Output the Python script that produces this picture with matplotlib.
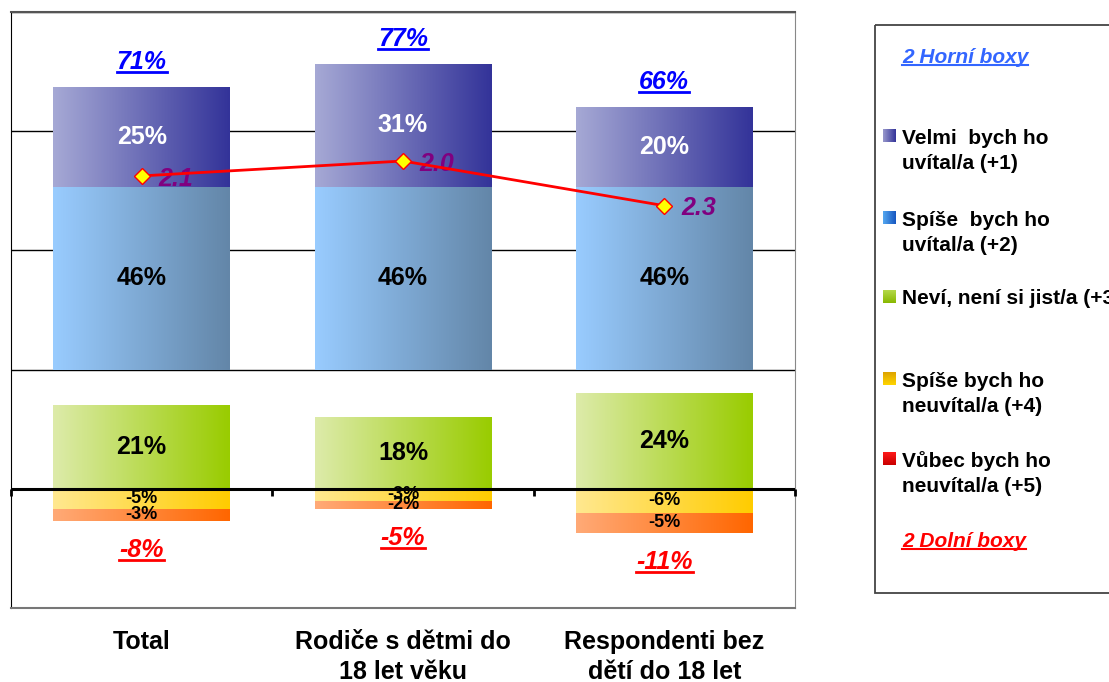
import numpy as np
import matplotlib.pyplot as plt
from matplotlib.colors import to_rgb
from matplotlib.patches import Rectangle
from matplotlib.lines import Line2D

plt.rcParams['font.family'] = ['Liberation Sans', 'DejaVu Sans']
plt.rcParams['font.weight'] = 'bold'

# data
kategorie = ['Total', 'Rodiče s dětmi do\n18 let věku', 'Respondenti bez\ndětí do 18 let']
velmi = [25, 31, 20]          # +1
spise = [46, 46, 46]          # +2
nevi = [21, 18, 24]           # +3
spise_ne = [-5, -3, -6]       # +4
vubec_ne = [-3, -2, -5]       # +5
horni_boxy = [71, 77, 66]
dolni_boxy = [-8, -5, -11]
prumer = [2.1, 2.0, 2.3]
mezera = 30                   # neviditelna mezera pod kladnymi boxy

W, H = 1109, 682
fig = plt.figure(figsize=(W / 100, H / 100), dpi=100)
ax = fig.add_axes([11 / W, 1 - 608 / H, (795 - 11) / W, (608 - 12) / H])

x = np.arange(len(kategorie))
sirka = 0.675


def gradient(c1, c2, vertical=False):
    t = np.linspace(0, 1, 256)
    a, b = np.array(to_rgb(c1)), np.array(to_rgb(c2))
    img = a[None, :] * (1 - t[:, None]) + b[None, :] * t[:, None]
    return img[:, None, :] if vertical else img[None, :, :]


def sloupce(vysky, spodek, c1, c2):
    bars = ax.bar(x, vysky, sirka, bottom=spodek, color='none', edgecolor='none', zorder=2)
    img = gradient(c1, c2)
    for b in bars:
        x0, y0 = b.get_x(), b.get_y()
        im = ax.imshow(img, extent=(x0, x0 + b.get_width(), y0, y0 + b.get_height()),
                       aspect='auto', zorder=2, interpolation='bilinear')
        im.set_clip_path(b)
    return bars


def popisky(vysky, spodek, barva, vel):
    for xi, v, s in zip(x, vysky, spodek):
        ax.text(xi, s + v / 2, f'{v}%', ha='center', va='center', color=barva,
                fontsize=vel, fontweight='bold', zorder=6)


spodek_spise = [mezera] * len(x)
spodek_velmi = [mezera + s for s in spise]
sloupce(spise, spodek_spise, '#99CCFF', '#6386A8')
sloupce(velmi, spodek_velmi, '#A6A9D5', '#333399')
sloupce(nevi, 0, '#DDEBAA', '#99CC00')
sloupce(spise_ne, 0, '#FFE890', '#FFCC00')
sloupce(vubec_ne, spise_ne, '#FFAA77', '#FF6600')

popisky(spise, spodek_spise, 'black', 18)
popisky(velmi, spodek_velmi, 'white', 18)
popisky(nevi, [0] * len(x), 'black', 18)
popisky(spise_ne, [0] * len(x), 'black', 13)
popisky(vubec_ne, spise_ne, 'black', 13)

podtrzene = []
for xi, v, s, h in zip(x, horni_boxy, spise, velmi):
    t = ax.annotate(f'{v}%', (xi, mezera + s + h), xytext=(0, 13), textcoords='offset points',
                    ha='center', va='baseline', color='#0000FF', fontsize=18,
                    fontweight='bold', fontstyle='italic')
    podtrzene.append((t, 3, 2.0))
for xi, v, a, b in zip(x, dolni_boxy, spise_ne, vubec_ne):
    t = ax.annotate(f'{v}%', (xi, a + b), xytext=(0, -26), textcoords='offset points',
                    ha='center', va='baseline', color='#FF0000', fontsize=18,
                    fontweight='bold', fontstyle='italic')
    podtrzene.append((t, 3, 2.0))

# osy
ax.set_xlim(-0.5, len(x) - 0.5)
ax.set_ylim(-30, 120)
ax.set_yticks(np.arange(-30, 121, 30))
ax.yaxis.grid(True, color='black', lw=1)
ax.set_axisbelow(True)
ax.tick_params(axis='y', length=0, labelleft=False)
ax.set_xticks(x, kategorie)
ax.tick_params(axis='x', length=0, pad=16, labelsize=18)
for lab in ax.get_xticklabels():
    lab.set_linespacing(1.28)
ax.spines['left'].set_color('black')
ax.spines['top'].set_color('#555555')
ax.spines['top'].set_linewidth(1.5)
ax.spines['right'].set_color('#888888')
ax.spines['bottom'].set_color('#777777')
ax.spines['bottom'].set_linewidth(1.5)
ax.axhline(0, color='black', lw=2.2, zorder=4)
ax.vlines(np.arange(len(x) + 1) - 0.5, -1.8, 0, color='black', lw=2, zorder=4, clip_on=False)

# prumer
ax2 = ax.twinx()
ax2.set_ylim(5, 1)
ax2.axis('off')
ax2.plot(x, prumer, color='red', lw=2, marker='D', ms=8, mfc='yellow', mec='red', mew=1, zorder=5)
for xi, m in zip(x, prumer):
    ax2.annotate(f'{m:.1f}', (xi, m), xytext=(12, -2), textcoords='offset points',
                 ha='left', va='center', color='#800080', fontsize=18,
                 fontweight='bold', fontstyle='italic')

# legenda
lax = fig.add_axes([875 / W, 1 - 593 / H, 260 / W, (593 - 25) / H])
lax.axis('off')
lax.add_patch(Rectangle((0, 0), 260, 568, fill=False, edgecolor='#444444', lw=1.3, clip_on=False))

polozky = [
    ('Velmi  bych ho\nuvítal/a (+1)', 118, ('#9999CC', '#333399', False)),
    ('Spíše  bych ho\nuvítal/a (+2)', 200, ('#55A8F0', '#1656C0', False)),
    ('Neví, není si jist/a (+3)', 279, ('#B5D94A', '#88B800', True)),
    ('Spíše bych ho\nneuvítal/a (+4)', 361, ('#DDA300', '#FFD500', True)),
    ('Vůbec bych ho\nneuvítal/a (+5)', 441, ('#FF1A1A', '#C80000', True)),
]
radek = 26
for text, yb, (c1, c2, vert) in polozky:
    n = text.count('\n')
    lax.text(27, yb + n * radek, text, ha='left', va='baseline', fontsize=15, fontweight='bold',
             linespacing=1.4, clip_on=False)
    c = yb - 7
    lax.imshow(gradient(c1, c2, vert), extent=(8, 21, c + 6.5, c - 6.5), aspect='auto',
               interpolation='bilinear')

t = lax.text(27, 38, '2 Horní boxy', ha='left', va='baseline', fontsize=15, color='#3366FF',
             fontweight='bold', fontstyle='italic')
podtrzene.append((t, 1.5, 1.5))
t = lax.text(27, 522, '2 Dolní boxy', ha='left', va='baseline', fontsize=15, color='#FF0000',
             fontweight='bold', fontstyle='italic')
podtrzene.append((t, 1.5, 1.5))
lax.set_xlim(0, 260)
lax.set_ylim(568, 0)

# podtrzeni
fig.canvas.draw()
r = fig.canvas.get_renderer()
inv = fig.transFigure.inverted()
for t, mezi, tl in podtrzene:
    bb = t.get_window_extent(r)
    fp = t.get_fontproperties()
    d = max(r.get_text_width_height_descent(t.get_text(), fp, ismath=False)[2],
            r.get_text_width_height_descent('lp', fp, ismath=False)[2])
    y = bb.y0 + d - mezi
    (x0, y0), (x1, _) = inv.transform([(bb.x0, y), (bb.x1, y)])
    fig.add_artist(Line2D([x0, x1], [y0, y0], color=t.get_color(), lw=tl))

fig.savefig('out.png', dpi=100)
